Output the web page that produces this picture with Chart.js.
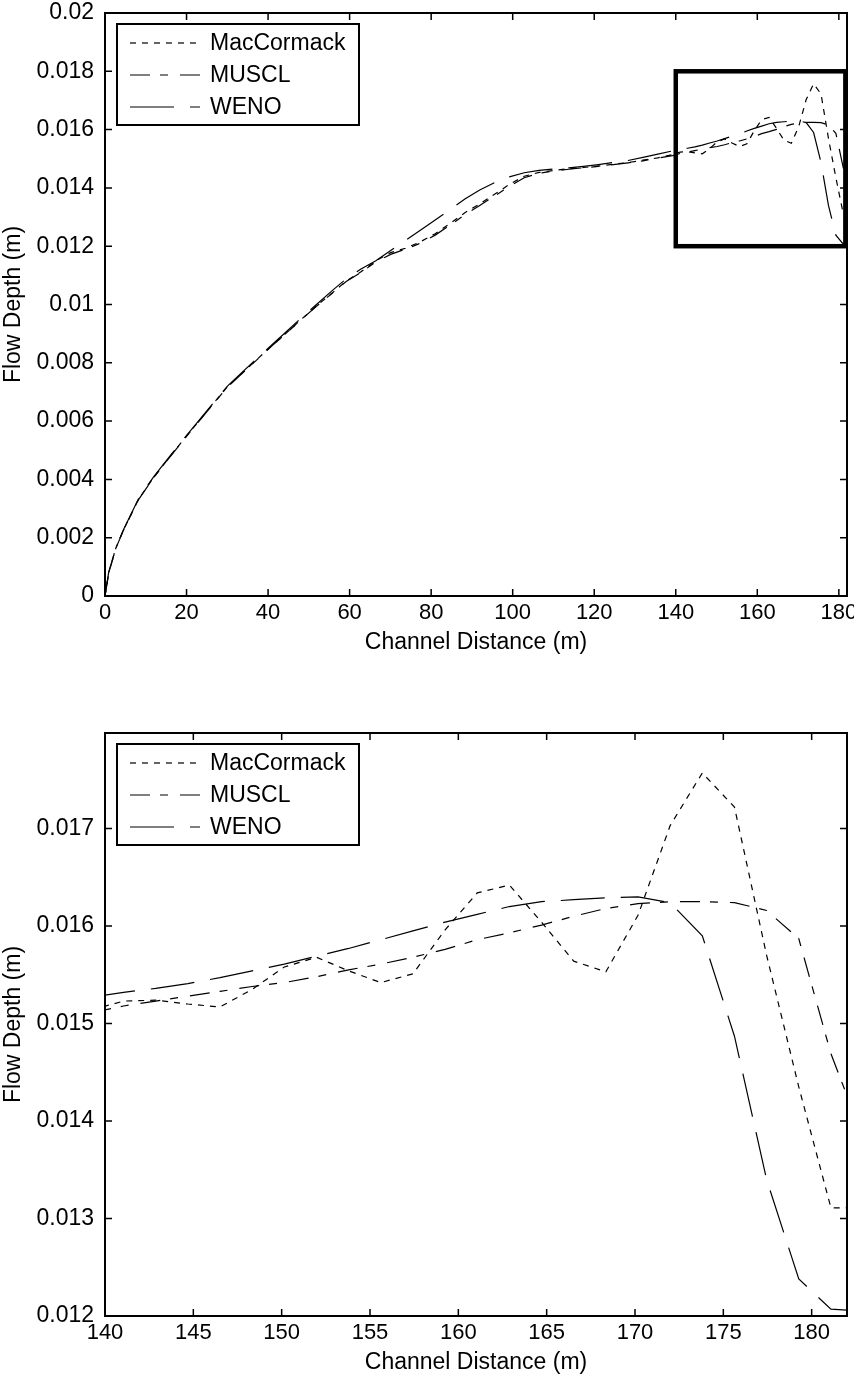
<!DOCTYPE html>
<html>
<head>
<meta charset="utf-8">
<script src="https://cdn.jsdelivr.net/npm/chart.js@4.4.0/dist/chart.umd.min.js"></script>
<style>
  html, body { margin: 0; padding: 0; background: #fff; }
  #wrap { position: relative; width: 854px; height: 1380px; }
  canvas { position: absolute; left: 0; }
  #full { top: 0; }
  #zoom { top: 680px; }
</style>
</head>
<body>
<div id="wrap">
  <canvas id="full" width="854" height="660"></canvas>
  <canvas id="zoom" width="854" height="700"></canvas>
</div>
<script>
// node positions along the channel (m)
const distance = [
  0, 0.91, 2.73, 4.55, 8.19, 11.83, 15.47, 19.11, 22.75, 26.39,
  30.03, 33.67, 37.31, 40.95, 44.59, 48.23, 51.87, 55.51, 59.15, 62.79,
  66.43, 70.07, 73.71, 77.35, 80.99, 84.63, 88.27, 91.91, 95.55, 99.19,
  102.83, 106.47, 110.11, 113.75, 117.39, 121.03, 124.67, 128.31, 131.95, 135.59,
  139.23, 141.05, 142.87, 144.69, 146.51, 148.33, 150.15, 151.97, 153.79, 155.61,
  157.43, 159.25, 161.07, 162.89, 164.71, 166.53, 168.35, 170.17, 171.99, 173.81,
  175.63, 177.45, 179.27, 181.09, 182.91
];

// flow depth (m) for each scheme
const macCormack = [
  0, 0.0008, 0.00167, 0.00227, 0.00331, 0.00405, 0.0047, 0.00534, 0.00595, 0.00657,
  0.00718, 0.00765, 0.00812, 0.00859, 0.00904, 0.0095, 0.00995, 0.01037, 0.0108, 0.01112,
  0.0115, 0.01178, 0.01193, 0.01215, 0.01243, 0.01278, 0.01315, 0.01345, 0.01378, 0.01412,
  0.0144, 0.01453, 0.0146, 0.01466, 0.0147, 0.01475, 0.01481, 0.01487, 0.01495, 0.01503,
  0.01514, 0.01523, 0.01524, 0.0152, 0.01517, 0.01535, 0.01558, 0.01568, 0.01554, 0.01542,
  0.01551, 0.01596, 0.01634, 0.01642, 0.01604, 0.01564, 0.01553, 0.01611, 0.01703, 0.01757,
  0.01722, 0.0157, 0.01435, 0.01311, 0.01311
];
const muscl = [
  0, 0.00078, 0.00166, 0.00226, 0.0033, 0.00404, 0.00469, 0.00533, 0.00594, 0.00656,
  0.00717, 0.00764, 0.00811, 0.00858, 0.00903, 0.00949, 0.00994, 0.01036, 0.01079, 0.0111,
  0.01146, 0.01172, 0.0119, 0.0121, 0.01238, 0.01272, 0.01308, 0.0134, 0.01372, 0.01405,
  0.01435, 0.0145, 0.01458, 0.01464, 0.01469, 0.01474, 0.0148, 0.01486, 0.01493, 0.01502,
  0.01511, 0.01518, 0.01523, 0.01528, 0.01533, 0.01538, 0.01542, 0.01548, 0.01555, 0.01561,
  0.01568, 0.01576, 0.01586, 0.01593, 0.01601, 0.0161, 0.01618, 0.01623, 0.01625, 0.01625,
  0.01624, 0.01616, 0.01587, 0.01469, 0.01383
];
const weno = [
  0, 0.00082, 0.00168, 0.00228, 0.00333, 0.00407, 0.00472, 0.00536, 0.00597, 0.00659,
  0.0072, 0.00768, 0.00815, 0.00862, 0.00908, 0.00955, 0.01, 0.01045, 0.01088, 0.01122,
  0.0115, 0.01185, 0.0122, 0.01255, 0.0129, 0.01325, 0.01362, 0.01393, 0.01418, 0.01438,
  0.01452, 0.0146, 0.01465, 0.01469, 0.01474, 0.0148, 0.01487, 0.01494, 0.01505, 0.01516,
  0.01527, 0.01532, 0.01536, 0.01541, 0.01547, 0.01554, 0.01561, 0.01569, 0.01577, 0.01586,
  0.01595, 0.01604, 0.01612, 0.0162, 0.01625, 0.01627, 0.01629, 0.0163, 0.01624, 0.0159,
  0.01487, 0.0134, 0.01238, 0.01207, 0.01205
];

// axes
const fullXRange = [0, 182];
const fullYRange = [0, 0.02];
const fullXTicks = [0, 20, 40, 60, 80, 100, 120, 140, 160, 180];
const fullYTicks = [0, 0.002, 0.004, 0.006, 0.008, 0.01, 0.012, 0.014, 0.016, 0.018, 0.02];
const zoomXRange = [140, 182];
const zoomYRange = [0.012, 0.01798];
const zoomXTicks = [140, 145, 150, 155, 160, 165, 170, 175, 180];
const zoomYTicks = [0.012, 0.013, 0.014, 0.015, 0.016, 0.017];
// x0, x1, y0, y1 of the region shown in the lower plot
const zoomBox = [140, 181.6, 0.012, 0.018];

const FONT = '"Liberation Sans", Arial, sans-serif';
Chart.defaults.font.family = FONT;
Chart.defaults.color = '#000';

function pts(ys) {
    return distance.map((d, i) => ({ x: d, y: ys[i] }));
}

function buildDatasets() {
    return [
        { label: 'MacCormack', data: pts(macCormack), borderDash: [6, 6] },
        { label: 'MUSCL', data: pts(muscl), borderDash: [20, 10, 8, 12] },
        { label: 'WENO', data: pts(weno), borderDash: [44, 16] }
    ].map(ds => Object.assign(ds, {
        borderColor: '#000',
        borderWidth: 1.2,
        pointRadius: 0,
        tension: 0,
        fill: false
    }));
}

// MATLAB-ish frame: box, inward ticks on all sides, boxed legend
const matlabFrame = {
    id: 'matlabFrame',
    afterDatasetsDraw(chart, args, opts) {
        const ctx = chart.ctx;
        const a = chart.chartArea;
        const xs = chart.scales.x, ys = chart.scales.y;
        ctx.save();
        ctx.strokeStyle = '#000';

        if (opts.box) {
            const [x0, x1, y0, y1] = opts.box;
            const px0 = xs.getPixelForValue(x0), px1 = xs.getPixelForValue(x1);
            const py0 = ys.getPixelForValue(y0), py1 = ys.getPixelForValue(y1);
            ctx.lineWidth = 4.5;
            ctx.strokeRect(px0, py1, px1 - px0, py0 - py1);
        }

        ctx.lineWidth = 2;
        ctx.strokeRect(a.left, a.top, a.right - a.left, a.bottom - a.top);

        ctx.lineWidth = 1.5;
        ctx.beginPath();
        xs.ticks.forEach(t => {
            const p = xs.getPixelForValue(t.value);
            ctx.moveTo(p, a.bottom); ctx.lineTo(p, a.bottom - 7);
            ctx.moveTo(p, a.top); ctx.lineTo(p, a.top + 7);
        });
        ys.ticks.forEach(t => {
            const p = ys.getPixelForValue(t.value);
            ctx.moveTo(a.left, p); ctx.lineTo(a.left + 7, p);
            ctx.moveTo(a.right, p); ctx.lineTo(a.right - 7, p);
        });
        ctx.stroke();

        // legend
        const lx = a.left + 12, ly = a.top + 11, lw = 242, lh = 101;
        ctx.fillStyle = '#fff';
        ctx.fillRect(lx, ly, lw, lh);
        ctx.lineWidth = 2;
        ctx.strokeRect(lx, ly, lw, lh);
        chart.data.datasets.forEach((ds, i) => {
            const y = ly + 19 + i * 32;
            ctx.setLineDash(ds.borderDash);
            ctx.lineWidth = ds.borderWidth;
            ctx.beginPath();
            ctx.moveTo(lx + 13, y);
            ctx.lineTo(lx + 83, y);
            ctx.stroke();
            ctx.setLineDash([]);
            ctx.fillStyle = '#000';
            ctx.font = '23px ' + FONT;
            ctx.textBaseline = 'middle';
            ctx.textAlign = 'left';
            ctx.fillText(ds.label, lx + 93, y + 1);
        });
        ctx.restore();
    }
};

function fmt(v) {
    return String(+v.toFixed(4));
}

// keep the plot box where the layout padding puts it
function noEdgePadding(s) {
    s.paddingLeft = 0;
    s.paddingRight = 0;
    s.paddingTop = 0;
    s.paddingBottom = 0;
}

function makeChart(id, xRange, yRange, xTicks, yTicks, box, padTop) {
    const ctx = document.getElementById(id).getContext('2d');
    return new Chart(ctx, {
        type: 'line',
        data: { datasets: buildDatasets() },
        plugins: [matlabFrame],
        options: {
            responsive: false,
            animation: false,
            layout: { padding: { top: padTop, right: 7, left: 0, bottom: 0 } },
            plugins: {
                legend: { display: false },
                tooltip: { enabled: false },
                matlabFrame: { box: box }
            },
            scales: {
                x: {
                    type: 'linear',
                    min: xRange[0],
                    max: xRange[1],
                    grid: { display: false },
                    border: { display: false },
                    afterBuildTicks: s => { s.ticks = xTicks.map(v => ({ value: v })); },
                    afterFit: s => { s.height = 64; noEdgePadding(s); },
                    ticks: {
                        autoSkip: false,
                        maxRotation: 0,
                        padding: -4,
                        font: { size: 22 },
                        callback: v => fmt(v)
                    },
                    title: {
                        display: true,
                        text: 'Channel Distance (m)',
                        font: { size: 23 },
                        padding: { top: 0, bottom: 4 }
                    }
                },
                y: {
                    type: 'linear',
                    min: yRange[0],
                    max: yRange[1],
                    grid: { display: false },
                    border: { display: false },
                    afterBuildTicks: s => { s.ticks = yTicks.map(v => ({ value: v })); },
                    afterFit: s => { s.width = 105; noEdgePadding(s); },
                    ticks: {
                        autoSkip: false,
                        padding: 3,
                        font: { size: 23 },
                        callback: v => fmt(v)
                    },
                    title: {
                        display: true,
                        text: 'Flow Depth (m)',
                        font: { size: 23 },
                        padding: { top: 0, bottom: 0 }
                    }
                }
            }
        }
    });
}

makeChart('full', fullXRange, fullYRange, fullXTicks, fullYTicks, zoomBox, 13);
makeChart('zoom', zoomXRange, zoomYRange, zoomXTicks, zoomYTicks, null, 53);
</script>
</body>
</html>
